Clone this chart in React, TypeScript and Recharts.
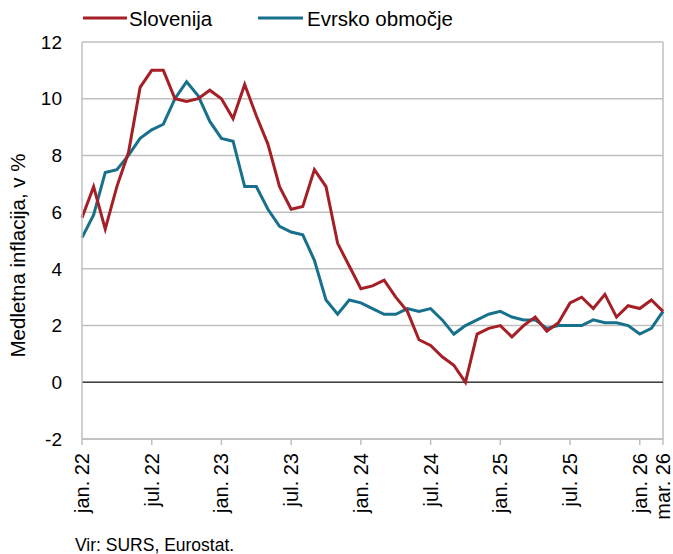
import React from "react";
import { LineChart, Line, XAxis, YAxis, CartesianGrid, ReferenceLine } from "recharts";

const months = [
  "jan. 22", "feb. 22", "mar. 22", "apr. 22", "maj. 22", "jun. 22", "jul. 22", "avg. 22", "sep. 22", "okt. 22", "nov. 22", "dec. 22",
  "jan. 23", "feb. 23", "mar. 23", "apr. 23", "maj. 23", "jun. 23", "jul. 23", "avg. 23", "sep. 23", "okt. 23", "nov. 23", "dec. 23",
  "jan. 24", "feb. 24", "mar. 24", "apr. 24", "maj. 24", "jun. 24", "jul. 24", "avg. 24", "sep. 24", "okt. 24", "nov. 24", "dec. 24",
  "jan. 25", "feb. 25", "mar. 25", "apr. 25", "maj. 25", "jun. 25", "jul. 25", "avg. 25", "sep. 25", "okt. 25", "nov. 25", "dec. 25",
  "jan. 26", "feb. 26", "mar. 26",
];

const slovenija = [
  5.8, 6.9, 5.4, 6.9, 8.1, 10.4, 11.0, 11.0, 10.0, 9.9, 10.0, 10.3,
  10.0, 9.3, 10.5, 9.4, 8.4, 6.9, 6.1, 6.2, 7.5, 6.9, 4.9, 4.1,
  3.3, 3.4, 3.6, 3.0, 2.5, 1.5, 1.3, 0.9, 0.6, 0.0, 1.7, 1.9,
  2.0, 1.6, 2.0, 2.3, 1.8, 2.1, 2.8, 3.0, 2.6, 3.1, 2.3, 2.7,
  2.6, 2.9, 2.5,
];

const evrskoObmocje = [
  5.1, 5.9, 7.4, 7.5, 8.0, 8.6, 8.9, 9.1, 10.0, 10.6, 10.1, 9.2,
  8.6, 8.5, 6.9, 6.9, 6.1, 5.5, 5.3, 5.2, 4.3, 2.9, 2.4, 2.9,
  2.8, 2.6, 2.4, 2.4, 2.6, 2.5, 2.6, 2.2, 1.7, 2.0, 2.2, 2.4,
  2.5, 2.3, 2.2, 2.2, 1.9, 2.0, 2.0, 2.0, 2.2, 2.1, 2.1, 2.0,
  1.7, 1.9, 2.5,
];

const xTicks = [0, 6, 12, 18, 24, 30, 36, 42, 48, 50];
const yTicks = [-2, 0, 2, 4, 6, 8, 10, 12];

const data = months.map((m, i) => ({
  idx: i,
  month: m,
  slo: slovenija[i],
  ea: evrskoObmocje[i],
}));

const RED = "#a51f27";
const TEAL = "#17708c";
const GRID = "#bfbfbf";
const FONT = "'Liberation Sans', Arial, sans-serif";

const XTick = (props: any) => {
  const { x, y, payload } = props;
  return (
    <text
      x={x}
      y={y}
      transform={`rotate(-90 ${x} ${y})`}
      textAnchor="end"
      dy="0.35em"
      fontSize={20}
      fontFamily={FONT}
      fill="#000"
    >
      {months[payload.value]}
    </text>
  );
};

const App = () => {
  return (
    <div style={{ position: "absolute", left: 0, top: 0, width: 673, height: 554, background: "#fff" }}>
      <LineChart
        width={673}
        height={554}
        data={data}
        margin={{ top: 42, right: 10, left: 0, bottom: 55 }}
      >
        <CartesianGrid vertical={false} stroke={GRID} strokeWidth={1.5} />
        <XAxis
          dataKey="idx"
          type="number"
          domain={[0, 50]}
          ticks={xTicks}
          interval={0}
          height={60}
          axisLine={{ stroke: GRID, strokeWidth: 1.5 }}
          tickLine={{ stroke: GRID, strokeWidth: 1.5 }}
          tickSize={6}
          tickMargin={8}
          tick={<XTick />}
        />
        <YAxis
          domain={[-2, 12]}
          ticks={yTicks}
          interval={0}
          width={82}
          axisLine={{ stroke: GRID, strokeWidth: 1.5 }}
          tickLine={false}
          tickSize={0}
          tickMargin={20}
          tick={{ fontSize: 19, fontFamily: FONT, fill: "#000" }}
          label={{
            value: "Medletna inflacija, v %",
            angle: -90,
            position: "insideLeft",
            offset: 0,
            style: { fontSize: 20.5, fontFamily: FONT, fill: "#000", textAnchor: "middle" },
            dx: 18,
            dy: 15,
          }}
        />
        <ReferenceLine x={50} stroke={GRID} strokeWidth={1.5} />
        <ReferenceLine y={0} stroke="#404040" strokeWidth={1.5} />
        <Line
          type="linear"
          dataKey="ea"
          stroke={TEAL}
          strokeWidth={3}
          dot={false}
          isAnimationActive={false}
        />
        <Line
          type="linear"
          dataKey="slo"
          stroke={RED}
          strokeWidth={3}
          dot={false}
          isAnimationActive={false}
        />
      </LineChart>
      <svg
        width={673}
        height={554}
        style={{ position: "absolute", left: 0, top: 0, pointerEvents: "none" }}
      >
        <line x1={83} y1={18} x2={127} y2={18} stroke={RED} strokeWidth={3} />
        <text x={129} y={26} fontSize={20.5} fontFamily={FONT} fill="#000">
          Slovenija
        </text>
        <line x1={258} y1={18} x2={303} y2={18} stroke={TEAL} strokeWidth={3} />
        <text x={307} y={26} fontSize={20.5} fontFamily={FONT} fill="#000">
          Evrsko območje
        </text>
        <text x={75} y={551} fontSize={17.5} fontFamily={FONT} fill="#000">
          Vir: SURS, Eurostat.
        </text>
      </svg>
    </div>
  );
};

export default App;
